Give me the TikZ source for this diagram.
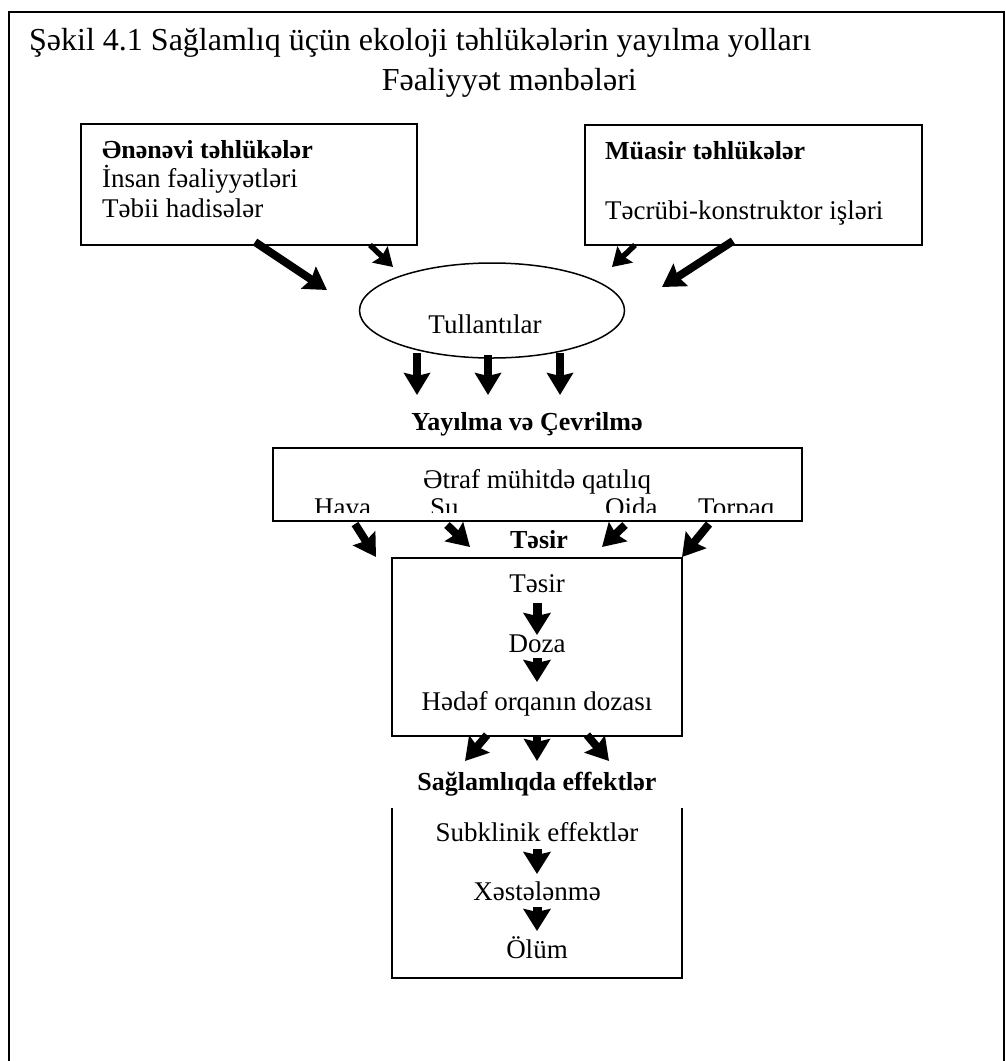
\documentclass[tikz,border=0pt]{standalone}
\usepackage{fontspec}
\setmainfont{Liberation Serif}
\usetikzlibrary{arrows.meta,shapes.geometric}
\begin{document}
\begin{tikzpicture}[x=1pt,y=-1pt,
  frameline/.style={line width=1.8pt},
  box/.style={draw, line width=1.8pt, rectangle, inner sep=0pt, outer sep=0pt},
  txt/.style={font=\fontsize{27}{32}\selectfont, inner sep=0pt},
  btxt/.style={font=\fontsize{26}{31}\selectfont\bfseries, inner sep=0pt},
  ttl/.style={font=\fontsize{32}{38}\selectfont, inner sep=0pt},
  fat/.style={line width=8pt, -{Stealth[width=26pt,length=22pt,inset=3pt]}},
  slim/.style={line width=5.5pt, -{Stealth[width=22pt,length=18pt,inset=2.5pt]}},
  stub/.style={line width=9pt, -{Stealth[width=27pt,length=22pt,inset=3pt]}},
]
\useasboundingbox (0,0) rectangle (1006,1061);
\fill[white] (0,0) rectangle (1006,1061);

% outer frame, open at the bottom
\draw[frameline] (9,1061) -- (9,12) -- (1004,12) -- (1004,1061);

% title
\node[ttl, anchor=base west] (title) at (29,50) {Şəkil 4.1 Sağlamlıq üçün ekoloji təhlükələrin yayılma yolları};
\node[ttl, anchor=base east] (sources) at (637,90) {Fəaliyyət mənbələri};

% source boxes
\node[box, minimum width=336pt, minimum height=121pt] (trad) at (249,184.5) {};
\node[btxt, anchor=base west] (tradhead) at (102,158) {Ənənəvi təhlükələr};
\node[txt, anchor=base west] (tradA) at (102,187) {İnsan fəaliyyətləri};
\node[txt, anchor=base west] (tradB) at (102,217) {Təbii hadisələr};

\node[box, minimum width=337pt, minimum height=120pt] (modern) at (753.5,185) {};
\node[btxt, anchor=base west] (modhead) at (605,159) {Müasir təhlükələr};
\node[txt, anchor=base west] (modA) at (605,219) {Təcrübi-konstruktor işləri};

% emissions
\node[draw, ellipse, line width=1.5pt, minimum width=265pt, minimum height=95pt, inner sep=0pt] (emis) at (492,310.5) {};
\node[txt, anchor=base] (emistext) at (485,333) {Tullantılar};

\coordinate (a1s) at (255,242); \coordinate (a1e) at (327,290);
\coordinate (a2s) at (370,245); \coordinate (a2e) at (393,267);
\coordinate (a3s) at (635,245); \coordinate (a3e) at (612,267);
\coordinate (a4s) at (733,241); \coordinate (a4e) at (662,287);
\draw[fat] (a1s) -- (a1e);
\draw[slim] (a2s) -- (a2e);
\draw[slim] (a3s) -- (a3e);
\draw[fat] (a4s) -- (a4e);

% spread and transformation
\coordinate (d1s) at (417,353); \coordinate (d1e) at (417,395);
\coordinate (d2s) at (488,355); \coordinate (d2e) at (488,395);
\coordinate (d3s) at (560,353); \coordinate (d3e) at (560,395);
\draw[fat] (d1s) -- (d1e);
\draw[fat] (d2s) -- (d2e);
\draw[fat] (d3s) -- (d3e);

\node[btxt, anchor=base] (spread) at (527,430) {Yayılma və Çevrilmə};

\node[box, minimum width=529pt, minimum height=73pt] (env) at (537.5,484.5) {};
\node[txt, anchor=base] (envtext) at (537,488) {Ətraf mühitdə qatılıq};
\begin{scope}
  % the lower row is cut off by its frame
  \clip (275,450) rectangle (800,512);
  \node[txt, anchor=base west] (air) at (314,516) {Hava};
  \node[txt, anchor=base west] (water) at (430,516) {Su};
  \node[txt, anchor=base west] (food) at (605,516) {Qida};
  \node[txt, anchor=base west] (soil) at (698,516) {Torpaq};
\end{scope}

\coordinate (e1s) at (355,524); \coordinate (e1e) at (376,557);
\coordinate (e2s) at (447,525); \coordinate (e2e) at (470,547);
\coordinate (e3s) at (625,525); \coordinate (e3e) at (602,547);
\coordinate (e4s) at (709,524); \coordinate (e4e) at (682,557);
\draw[fat] (e1s) -- (e1e);
\draw[fat] (e2s) -- (e2e);
\draw[fat] (e3s) -- (e3e);
\draw[fat] (e4s) -- (e4e);

\node[btxt, anchor=base] (exposure) at (539,548) {Təsir};

% exposure box
\node[box, minimum width=290pt, minimum height=178pt] (expbox) at (537,647) {};
\node[txt, anchor=base] (expA) at (537,592) {Təsir};
\node[txt, anchor=base] (expB) at (537,652) {Doza};
\node[txt, anchor=base] (expC) at (537,710) {Hədəf orqanın dozası};
\coordinate (i1s) at (537,603); \coordinate (i1e) at (537,635);
\coordinate (i2s) at (537,658); \coordinate (i2e) at (537,682);
\draw[stub] (i1s) -- (i1e);
\draw[stub] (i2s) -- (i2e);

\coordinate (h1s) at (487,735); \coordinate (h1e) at (465,761);
\coordinate (h2s) at (537,735); \coordinate (h2e) at (537,761);
\coordinate (h3s) at (587,735); \coordinate (h3e) at (609,761);
\draw[fat] (h1s) -- (h1e);
\draw[fat] (h2s) -- (h2e);
\draw[fat] (h3s) -- (h3e);

\node[btxt, anchor=base] (health) at (537,790) {Sağlamlıqda effektlər};

% effects box, open at the top
\draw[line width=1.8pt] (392,808) -- (392,978) -- (682,978) -- (682,808);
\node[txt, anchor=base] (effA) at (537,841) {Subklinik effektlər};
\node[txt, anchor=base] (effB) at (537,900) {Xəstələnmə};
\node[txt, anchor=base] (effC) at (537,958) {Ölüm};
\coordinate (j1s) at (537,849); \coordinate (j1e) at (537,874);
\coordinate (j2s) at (537,907); \coordinate (j2e) at (537,931);
\draw[stub] (j1s) -- (j1e);
\draw[stub] (j2s) -- (j2e);
\end{tikzpicture}
\end{document}
